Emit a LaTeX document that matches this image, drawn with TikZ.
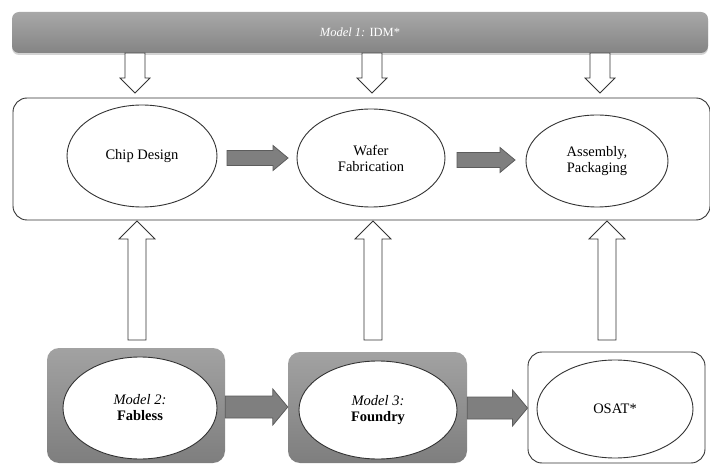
\documentclass[tikz,border=0pt]{standalone}
\usepackage{fontspec}
\setmainfont{Liberation Serif}
\usetikzlibrary{calc,shadows}
\definecolor{bartop}{HTML}{A8A8A8}
\definecolor{barbot}{HTML}{848484}
\definecolor{boxtop}{HTML}{A2A2A2}
\definecolor{boxbot}{HTML}{7E7E7E}
\definecolor{arrfill}{HTML}{7F7F7F}
\definecolor{edgec}{HTML}{333333}
\newcommand{\vblock}[6]{% style, from, to, shaft half, head half, head length
  \path[#1] let \p1=(#2), \p2=(#3), \n1={sign(\y2-\y1)} in
    (\x1-#4,\y1) -- (\x1-#4,\y2-\n1*#6) -- (\x1-#5,\y2-\n1*#6) -- (\x1,\y2)
    -- (\x1+#5,\y2-\n1*#6) -- (\x1+#4,\y2-\n1*#6) -- (\x1+#4,\y1) -- cycle;}
\newcommand{\hblock}[6]{% style, from, to, shaft half, head half, head length
  \path[#1] let \p1=(#2), \p2=(#3), \n1={sign(\x2-\x1)} in
    (\x1,\y1-#4) -- (\x2-\n1*#6,\y1-#4) -- (\x2-\n1*#6,\y1-#5) -- (\x2,\y1)
    -- (\x2-\n1*#6,\y1+#5) -- (\x2-\n1*#6,\y1+#4) -- (\x1,\y1+#4) -- cycle;}
\begin{document}
\begin{tikzpicture}[x=1pt,y=-1pt,
  txt/.style={font=\fontsize{14.5}{16}\selectfont, align=center},
  oval/.style={ellipse, draw=edgec, line width=0.9pt, fill=white, inner sep=0pt, txt},
  hollow/.style={draw=edgec, line width=0.8pt, fill=white},
  grayarr/.style={draw=edgec!80, line width=0.8pt, fill=arrfill},
  graybox/.style={rectangle, rounded corners=12pt, top color=boxtop, bottom color=boxbot, draw=none, inner sep=0pt},
  whitebox/.style={rectangle, rounded corners=14pt, draw=edgec, line width=0.9pt, fill=white, inner sep=0pt}]
\useasboundingbox (0,0) rectangle (710,465);
\usetikzlibrary{shapes.geometric}
% banner
\node[rectangle, rounded corners=7pt, minimum width=696pt, minimum height=41pt,
  top color=bartop, bottom color=barbot, draw=none, inner sep=0pt,
  drop shadow={opacity=0.35, shadow xshift=0pt, shadow yshift=-2pt},
  text=white, font=\fontsize{12.5}{14}\selectfont] (banner) at (360,32.5)
  {\textit{Model 1:} IDM*};
% big box
\node[whitebox, minimum width=697pt, minimum height=122pt] (big) at (361.5,159) {};
% top ovals
\node[oval, minimum width=150pt, minimum height=102pt] (chip) at (142,156) {Chip Design};
\node[oval, minimum width=148pt, minimum height=98pt] (wafer) at (371,158) {Wafer\\Fabrication};
\node[oval, minimum width=142pt, minimum height=92pt] (assy) at (597,161) {Assembly,\\Packaging};
% bottom boxes
\node[graybox, minimum width=178pt, minimum height=115pt] (m2box) at (136,405.5) {};
\node[graybox, minimum width=179pt, minimum height=111pt] (m3box) at (377.5,407.5) {};
\node[whitebox, minimum width=177pt, minimum height=111pt] (osbox) at (616.5,407.5) {};
\node[oval, minimum width=154pt, minimum height=102pt] (m2) at (140,408) {\textit{Model 2:}\\\textbf{Fabless}};
\node[oval, minimum width=158pt, minimum height=98pt] (m3) at (378,410) {\textit{Model 3:}\\\textbf{Foundry}};
\node[oval, minimum width=156pt, minimum height=98pt] (osat) at (615,409) {OSAT*};
% down arrows from banner
\coordinate (d1s) at (135,53); \coordinate (d1e) at (135,93);
\coordinate (d2s) at (372,53); \coordinate (d2e) at (372,93);
\coordinate (d3s) at (600,53); \coordinate (d3e) at (600,93);
\vblock{hollow}{d1s}{d1e}{10pt}{15pt}{15pt}
\vblock{hollow}{d2s}{d2e}{10pt}{15pt}{15pt}
\vblock{hollow}{d3s}{d3e}{10pt}{15pt}{15pt}
% up arrows to big box
\coordinate (u1s) at (137,340); \coordinate (u1e) at (137,221);
\coordinate (u2s) at (373,340); \coordinate (u2e) at (373,221);
\coordinate (u3s) at (607,340); \coordinate (u3e) at (607,221);
\vblock{hollow}{u1s}{u1e}{9pt}{18pt}{18pt}
\vblock{hollow}{u2s}{u2e}{9pt}{18pt}{18pt}
\vblock{hollow}{u3s}{u3e}{9pt}{18pt}{18pt}
% top horizontal arrows
\coordinate (h1s) at (227,158); \coordinate (h1e) at (288,158);
\coordinate (h2s) at (457,160); \coordinate (h2e) at (515,160);
\hblock{grayarr}{h1s}{h1e}{7.5pt}{12.5pt}{15pt}
\hblock{grayarr}{h2s}{h2e}{7.5pt}{12.5pt}{15pt}
% bottom horizontal arrows
\coordinate (b1s) at (m2box.east |- 0,407); \coordinate (b1e) at (m3box.west |- 0,407);
\coordinate (b2s) at (m3box.east |- 0,408); \coordinate (b2e) at (osbox.west |- 0,408);
\hblock{grayarr}{b1s}{b1e}{11pt}{18pt}{15pt}
\hblock{grayarr}{b2s}{b2e}{11pt}{18pt}{15pt}
\end{tikzpicture}
\end{document}
